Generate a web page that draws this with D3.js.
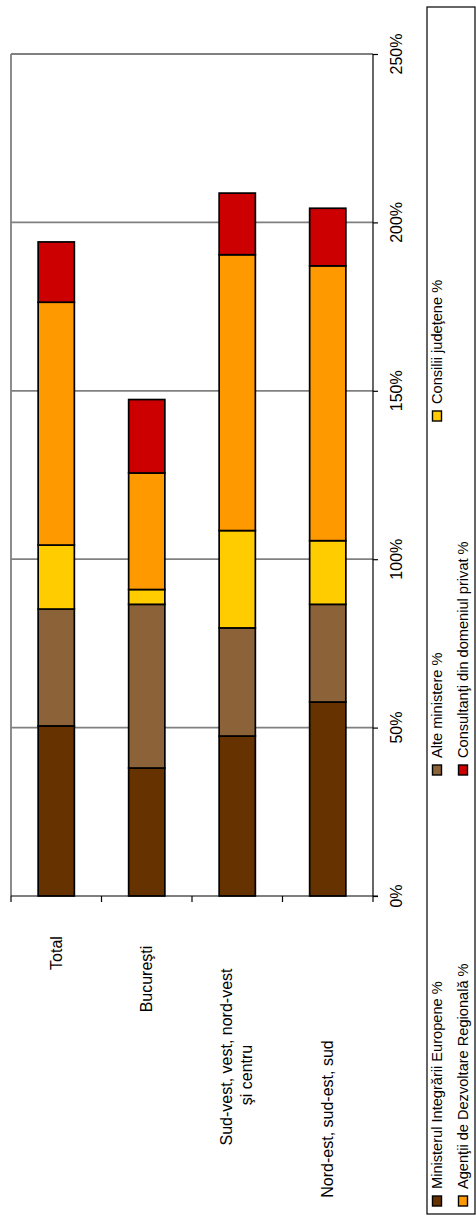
<!DOCTYPE html>
<html>
<head>
<meta charset="utf-8">
<script src="https://cdn.jsdelivr.net/npm/d3@7"></script>
<style>
  html, body { margin: 0; padding: 0; background: #fff; }
  svg { display: block; font-family: Arial, "Liberation Sans", sans-serif; }
</style>
</head>
<body>
<svg id="chart" width="476" height="1218"></svg>
<script>
// ---- data ----
const categories = ["Total", "Bucureşti", "Sud-vest, vest, nord-vest şi centru", "Nord-est, sud-est, sud"];
const categoryLines = [["Total"], ["Bucureşti"], ["Sud-vest, vest, nord-vest", "şi centru"], ["Nord-est, sud-est, sud"]];
const seriesNames = [
  "Ministerul Integrării Europene %",
  "Alte ministere %",
  "Consilii judeţene %",
  "Agenţii de Dezvoltare Regională %",
  "Consultanţi din domeniul privat %"
];
const mieValues         = [50.5, 38.0, 47.5, 57.6];
const alteValues        = [34.7, 48.6, 32.1, 29.0];
const consiliiValues    = [19.0, 4.4, 28.9, 18.9];
const adrValues         = [72.1, 34.6, 81.9, 81.6];
const consultantiValues = [17.9, 21.8, 18.3, 17.1];
const tickValues = [0, 50, 100, 150, 200, 250];
const tickLabels = ["0%", "50%", "100%", "150%", "200%", "250%"];

// ---- styling / layout ----
const colors = ["#663300", "#8C6239", "#FFCC00", "#FF9900", "#CC0000"];
const plot = { left: 11, right: 373, top: 54, bottom: 896 };
// per-category label line centres, distance below axis (layout only)
const labelLineOffsets = [[57], [83], [161, 179], [223]];
const labelLineDx = [[0], [0], [-11, 9], [0]];

const svg = d3.select("#chart");
const seriesValues = [mieValues, alteValues, consiliiValues, adrValues, consultantiValues];

const table = categories.map((c, i) => {
  const row = { cat: c };
  seriesNames.forEach((s, j) => row[s] = seriesValues[j][i]);
  return row;
});
const stacked = d3.stack().keys(seriesNames)(table);

const x = d3.scaleBand().domain(categories).range([plot.left, plot.right])
  .paddingInner(0.6).paddingOuter(0.3);
const y = d3.scaleLinear().domain([0, 250]).range([plot.bottom, plot.top]);

// gridlines
svg.append("g").selectAll("line").data(tickValues.filter(d => d > 0)).join("line")
  .attr("x1", plot.left).attr("x2", plot.right)
  .attr("y1", d => y(d)).attr("y2", d => y(d))
  .attr("stroke", "#808080").attr("stroke-width", 1.8);

// plot left border
svg.append("line").attr("x1", plot.left).attr("x2", plot.left)
  .attr("y1", plot.top).attr("y2", plot.bottom)
  .attr("stroke", "#808080").attr("stroke-width", 1.8);

// bars
svg.append("g").selectAll("g").data(stacked).join("g")
  .attr("fill", (d, i) => colors[i])
  .selectAll("rect").data(d => d).join("rect")
  .attr("x", d => x(d.data.cat))
  .attr("width", x.bandwidth())
  .attr("y", d => y(d[1]))
  .attr("height", d => y(d[0]) - y(d[1]))
  .attr("stroke", "#000").attr("stroke-width", 1.7);

// value axis on the right
const yAxis = d3.axisRight(y).tickValues(tickValues).tickSize(5).tickFormat("");
const ya = svg.append("g").attr("transform", `translate(${plot.right},0)`).call(yAxis);
ya.selectAll("path, line").attr("stroke", "#000").attr("stroke-width", 1.2);
ya.select(".domain").attr("d", `M0,${plot.top}V${plot.bottom}`);

svg.append("g").selectAll("text").data(tickValues).join("text")
  .attr("transform", (d) => `translate(396,${y(d)}) rotate(-90)`)
  .attr("text-anchor", "middle").attr("dominant-baseline", "central")
  .attr("font-size", 16).attr("fill", "#000")
  .text((d, i) => tickLabels[i]);

// category axis
const tickXs = d3.range(categories.length + 1).map(i => plot.left + i * (plot.right - plot.left) / categories.length);
svg.append("line").attr("x1", plot.left).attr("x2", plot.right + 5)
  .attr("y1", plot.bottom).attr("y2", plot.bottom)
  .attr("stroke", "#000").attr("stroke-width", 1.2);
svg.append("g").selectAll("line").data(tickXs).join("line")
  .attr("x1", d => d).attr("x2", d => d)
  .attr("y1", plot.bottom).attr("y2", plot.bottom + 6)
  .attr("stroke", "#000").attr("stroke-width", 1.2);

// category labels (rotated)
const labG = svg.append("g");
categoryLines.forEach((lines, i) => {
  const cx = x(categories[i]) + x.bandwidth() / 2;
  lines.forEach((t, k) => {
    labG.append("text")
      .attr("transform", `translate(${cx + labelLineDx[i][k]},${plot.bottom + labelLineOffsets[i][k]}) rotate(-90)`)
      .attr("text-anchor", "middle").attr("dominant-baseline", "central")
      .attr("font-size", 16).attr("fill", "#000")
      .text(t);
  });
});

// legend
svg.append("rect").attr("x", 427).attr("y", 7).attr("width", 48).attr("height", 1207)
  .attr("fill", "#fff").attr("stroke", "#000").attr("stroke-width", 1.2);
const legendPos = [
  { col: 0, row: 0 }, { col: 1, row: 0 }, { col: 2, row: 0 },
  { col: 0, row: 1 }, { col: 1, row: 1 }
];
const colSwatchY = [1201, 770, 416];
const rowX = [437, 463];
const lg = svg.append("g");
seriesNames.forEach((s, i) => {
  const p = legendPos[i];
  const cx = rowX[p.row], cy = colSwatchY[p.col];
  lg.append("rect").attr("x", cx - 4.5).attr("y", cy - 5).attr("width", 9).attr("height", 10)
    .attr("fill", colors[i]).attr("stroke", "#000").attr("stroke-width", 1.4);
  lg.append("text")
    .attr("transform", `translate(${cx},${cy - 12}) rotate(-90)`)
    .attr("text-anchor", "start").attr("dominant-baseline", "central")
    .attr("font-size", 14.6).attr("fill", "#000")
    .text(s);
});
</script>
</body>
</html>
